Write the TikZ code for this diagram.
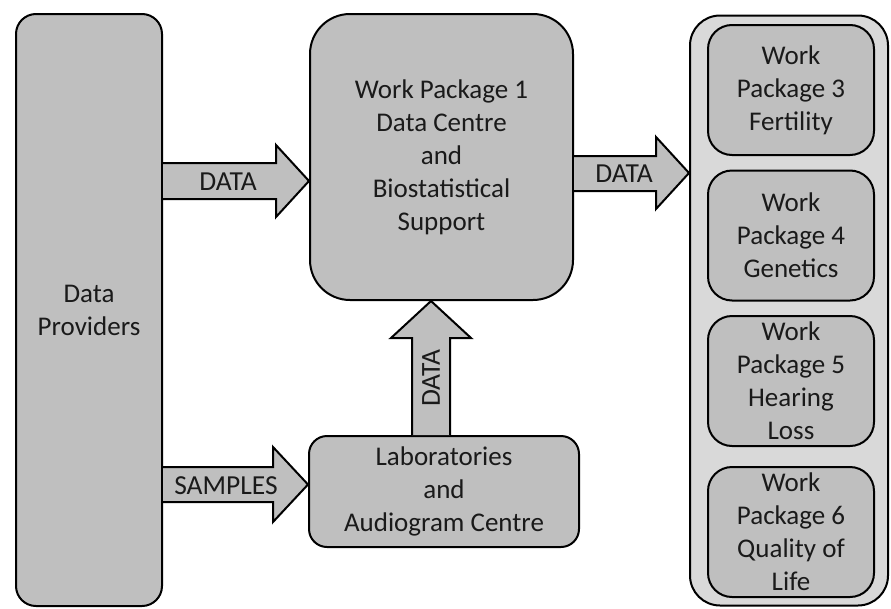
\documentclass[tikz,border=0pt]{standalone}
\usepackage{fontspec}
\setmainfont{Carlito}
\usetikzlibrary{calc}
\definecolor{boxgray}{HTML}{BFBFBF}
\definecolor{panelgray}{HTML}{D9D9D9}
\definecolor{ink}{HTML}{1A1A1A}
\begin{document}
\begin{tikzpicture}[x=1pt,y=-1pt,
  box/.style={draw=black,line width=2pt,fill=boxgray,align=center,text=ink,
    font=\fontsize{27}{33}\selectfont,inner sep=0pt},
  wpbox/.style={box,minimum width=166pt,minimum height=130pt,rounded corners=24pt},
  blockarrow/.style={draw=black,line width=2pt,fill=boxgray,line join=miter},
  lbl/.style={text=ink,font=\fontsize{27.5}{30}\selectfont,inner sep=0pt}]
\useasboundingbox (0,0) rectangle (891,608);
% right panel
\node[draw=black,line width=2pt,fill=panelgray,rounded corners=30pt,
  minimum width=198pt,minimum height=590pt,inner sep=0pt] (panel) at (789,310.5) {};
% left box
\node[box,minimum width=146pt,minimum height=592pt,rounded corners=20pt] (dp) at (89,310) {Data\\Providers};
% WP1
\node[box,minimum width=263pt,minimum height=286pt,rounded corners=40pt] (wp1) at (441.5,157) {Work Package 1\\Data Centre\\and\\Biostatistical\\Support};
% labs
\node[box,minimum width=270pt,minimum height=111pt,rounded corners=18pt] (lab) at (444,491.5) {Laboratories\\and\\Audiogram Centre};
% work packages
\node[wpbox] (wp3) at (791,90) {Work\\Package 3\\Fertility};
\node[wpbox] (wp4) at (791,235.5) {Work\\Package 4\\Genetics};
\node[wpbox] (wp5) at (791,381) {Work\\Package 5\\Hearing\\Loss};
\node[wpbox] (wp6) at (791,532) {Work\\Package 6\\Quality of\\Life};
% arrows
\filldraw[blockarrow] (dp.east |- 0,163) -- (276,163) -- (276,145) -- (wp1.west |- 0,181) -- (276,217) -- (276,199) -- (dp.east |- 0,199);
\node[lbl] (l1) at (228,182) {DATA};
\filldraw[blockarrow] (wp1.east |- 0,156) -- (656,156) -- (656,137) -- (panel.west |- 0,173) -- (656,209) -- (656,191) -- (wp1.east |- 0,191);
\node[lbl] (l2) at (624,174) {DATA};
\filldraw[blockarrow] (dp.east |- 0,467) -- (273,467) -- (273,447) -- (lab.west |- 0,484.5) -- (273,522) -- (273,502) -- (dp.east |- 0,502);
\node[lbl] (l3) at (226,486) {SAMPLES};
\filldraw[blockarrow] (412,0 |- lab.north) -- (412,338) -- (391,338) -- (431,0 |- wp1.south) -- (471,338) -- (450,338) -- (450,0 |- lab.north);
\node[lbl,rotate=90] (l4) at (431,378) {DATA};
\end{tikzpicture}
\end{document}
